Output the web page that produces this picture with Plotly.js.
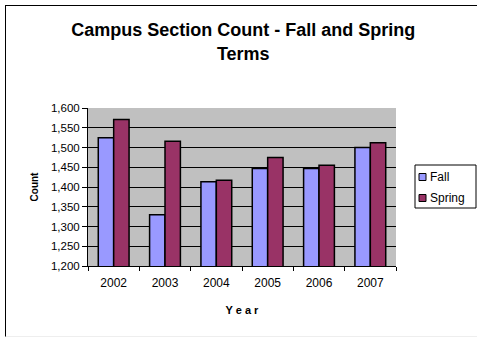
<!DOCTYPE html>
<html><head><meta charset="utf-8">
<script src="https://cdn.plot.ly/plotly-3.0.1.min.js"></script>
<style>
html,body{margin:0;padding:0;background:#fff;}
#wrap{position:relative;width:477px;height:339px;overflow:hidden;}
#chart{width:477px;height:339px;}
#frame{position:absolute;left:5px;top:5px;width:480px;height:330px;border:1px solid #000;border-bottom-color:#eee;pointer-events:none;}
</style></head>
<body><div id="wrap"><div id="chart"></div><div id="frame"></div></div>
<script>
const years = ['2002','2003','2004','2005','2006','2007'];
const fall = [1525, 1330, 1413, 1447, 1447, 1500];
const spring = [1571, 1516, 1417, 1475, 1455, 1512];
const seriesNames = ['Fall', 'Spring'];
const seriesColors = ['#9999FF', '#993366'];
const yTicks = [1200,1250,1300,1350,1400,1450,1500,1550,1600];

const M = {l:88, r:81, t:108, b:73};
const W = 477, H = 339;
const PW = W - M.l - M.r, PH = H - M.t - M.b;
const px = x => (x - M.l) / PW;
const py = y => (H - M.b - y) / PH;

const traces = [fall, spring].map((vals, i) => ({
  type:'bar', name:seriesNames[i], x:years, y:vals,
  marker:{color:seriesColors[i], line:{color:'#000', width:1.5}}
}));

const shapes = [
  {type:'rect', xref:'paper', yref:'paper', x0:px(415), x1:px(476), y0:py(165), y1:py(208), line:{color:'#000', width:1}, fillcolor:'#fff'}
];
const annotations = [];
seriesNames.forEach((n, i) => {
  const cy = 177 + i * 21;
  shapes.push({type:'rect', xref:'paper', yref:'paper', x0:px(419), x1:px(426), y0:py(cy+3.5), y1:py(cy-3.5), line:{color:'#000', width:1}, fillcolor:seriesColors[i]});
  annotations.push({xref:'paper', yref:'paper', x:px(428), y:py(cy), xanchor:'left', yanchor:'middle', text:n, showarrow:false, font:{size:12}});
});

const layout = {
  width:W, height:H,
  margin:{l:M.l, r:M.r, t:M.t, b:M.b, autoexpand:false},
  paper_bgcolor:'#fff', plot_bgcolor:'#C0C0C0',
  font:{family:'Liberation Sans, Arial, sans-serif', color:'#000'},
  title:{text:'<b>Campus Section Count - Fall and Spring<br>Terms</b>', font:{size:18}, x:0.51, xref:'container', y:0.893, yref:'container', yanchor:'top'},
  barmode:'group', bargap:0.4, bargroupgap:0,
  showlegend:false,
  shapes:shapes, annotations:annotations,
  xaxis:{type:'category', tickson:'boundaries', ticks:'outside', ticklen:4, tickcolor:'#000', showline:true, linecolor:'#000', linewidth:1, tickfont:{size:12}, ticklabelstandoff:6,
    title:{text:'<b>Y e a r</b>', font:{size:11}, standoff:16}},
  yaxis:{range:[1200,1600], tickvals:yTicks, tickformat:',d', ticks:'outside', ticklen:5, tickcolor:'#000', showline:true, linecolor:'#000', linewidth:1, showgrid:true, gridcolor:'#000', gridwidth:1, tickfont:{size:11.5}, zeroline:false,
    title:{text:'<b>Count</b>', font:{size:10}, standoff:10}}
};
Plotly.newPlot('chart', traces, layout, {staticPlot:true, displayModeBar:false});
</script></body></html>
